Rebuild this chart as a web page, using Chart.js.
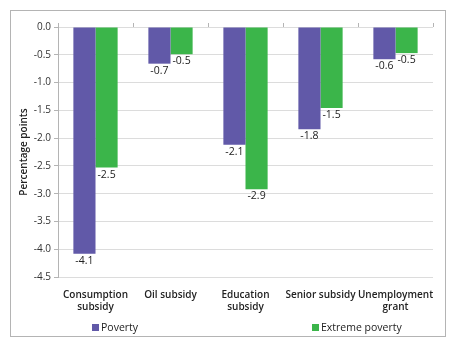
<!DOCTYPE html>
<html>
<head>
<meta charset="utf-8">
<script src="https://cdn.jsdelivr.net/npm/chart.js@4"></script>
<style>
    body { margin: 0; background: #fff; font-family: "Open Sans", sans-serif; }
    #wrap { position: relative; width: 456px; height: 347px; }
    #frame { position: absolute; left: 10px; top: 10px; width: 434px; height: 325px; border: 1px solid #b4b4b4; }
    canvas { position: absolute; left: 0; top: 0; }
    .leg { position: absolute; top: 320px; font-size: 10.5px; color: #222; }
    .leg span { display: inline-block; width: 7px; height: 7px; margin-right: 2px; vertical-align: 0px; }
</style>
</head>
<body>
<div id="wrap">
    <div id="frame"></div>
    <canvas id="chart" width="456" height="347"></canvas>
    <div class="leg" style="left:92px"><span style="background:#6159a8"></span>Poverty</div>
    <div class="leg" style="left:312px"><span style="background:#3bb54a"></span>Extreme poverty</div>
</div>
<script>
// chart values
const categories = [['Consumption', 'subsidy'], 'Oil subsidy', ['Education', 'subsidy'], 'Senior subsidy', ['Unemployment', 'grant']];
const poverty = [-4.08, -0.66, -2.12, -1.84, -0.58];
const extremePoverty = [-2.53, -0.49, -2.92, -1.46, -0.47];
const yTicks = [0, -0.5, -1, -1.5, -2, -2.5, -3, -3.5, -4, -4.5];

// value labels under each bar
const barLabels = {
    id: 'barLabels',
    afterDatasetsDraw(chart) {
        const ctx = chart.ctx;
        ctx.save();
        ctx.font = '10.5px "Open Sans", sans-serif';
        ctx.fillStyle = '#222';
        ctx.textAlign = 'center';
        ctx.textBaseline = 'top';
        chart.data.datasets.forEach((ds, i) => {
            chart.getDatasetMeta(i).data.forEach((bar, j) => {
                ctx.fillText(ds.data[j].toFixed(1), bar.x, bar.y + 2);
            });
        });
        ctx.restore();
    }
};

// small tick marks above the zero line between categories
const zeroTicks = {
    id: 'zeroTicks',
    afterDraw(chart) {
        const ctx = chart.ctx;
        const x = chart.scales.x;
        const y0 = chart.scales.y.getPixelForValue(0);
        const step = (x.right - x.left) / categories.length;
        ctx.save();
        ctx.strokeStyle = '#b4b4b4';
        ctx.lineWidth = 1;
        ctx.beginPath();
        for (let k = 0; k <= categories.length; k++) {
            const px = Math.round(x.left + step * k) + 0.5;
            ctx.moveTo(px, y0);
            ctx.lineTo(px, y0 - 4);
        }
        ctx.stroke();
        ctx.restore();
    }
};

new Chart(document.getElementById('chart'), {
    type: 'bar',
    data: {
        labels: categories,
        datasets: [
            { label: 'Poverty', data: poverty, backgroundColor: '#6159a8' },
            { label: 'Extreme poverty', data: extremePoverty, backgroundColor: '#3bb54a' }
        ]
    },
    options: {
        responsive: false,
        animation: false,
        layout: { padding: { left: 16, top: 27, right: 23, bottom: 0 } },
        datasets: { bar: { barPercentage: 1, categoryPercentage: 0.59 } },
        plugins: { legend: { display: false }, tooltip: { enabled: false } },
        scales: {
            x: {
                grid: { display: false },
                border: { display: false },
                ticks: {
                    color: '#222',
                    font: { family: 'Open Sans', size: 10, weight: '600' },
                    padding: 4,
                    maxRotation: 0,
                    autoSkip: false
                },
                afterFit(scale) { scale.height = 70; }
            },
            y: {
                min: -4.5,
                max: 0,
                afterBuildTicks(scale) { scale.ticks = yTicks.map(v => ({ value: v })); },
                grid: { color: '#dcdcdc', tickLength: 4, tickColor: '#b4b4b4' },
                border: { color: '#b4b4b4' },
                ticks: {
                    color: '#333',
                    font: { family: 'Open Sans', size: 10 },
                    padding: 3,
                    callback: v => v.toFixed(1)
                },
                title: {
                    display: true,
                    text: 'Percentage points',
                    color: '#222',
                    font: { family: 'Open Sans', size: 10, weight: '600' },
                    padding: 2
                },
                afterFit(scale) { scale.width = 42; }
            }
        }
    },
    plugins: [barLabels, zeroTicks]
});
</script>
</body>
</html>
